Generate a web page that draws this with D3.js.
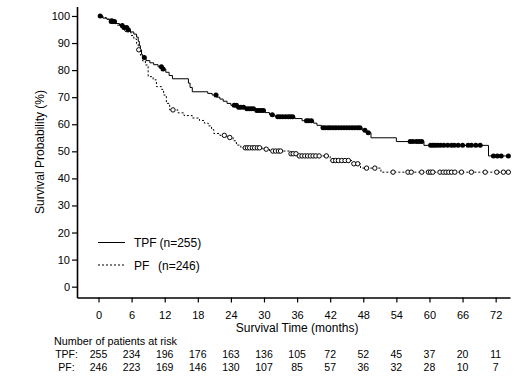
<!DOCTYPE html>
<html><head><meta charset="utf-8">
<script src="https://cdn.jsdelivr.net/npm/d3@7"></script>
<style>
body{margin:0;background:#fff;}
text{font-family:"Liberation Sans",Arial,sans-serif;fill:#000;}
</style></head>
<body><svg id="c" width="521" height="381"></svg>
<script>
// ---------- data ----------
const timeTicks = [0,6,12,18,24,30,36,42,48,54,60,66,72];
const probTicks = [0,10,20,30,40,50,60,70,80,90,100];
const endTime = 74.4;

// Kaplan-Meier steps [months, survival %]
const tpfSteps = [[0,100],[0.8,99.2],[1.5,98.8],[2.2,98.0],[3.0,97.2],[3.8,96.5],[4.6,95.7],[5.2,94.9],[5.8,94.1],[6.4,93.3],[6.9,92.2],[7.2,90.6],[7.4,89.0],[7.6,87.4],[7.8,85.8],[8.0,84.7],[8.6,83.5],[9.3,82.7],[10.0,82.0],[10.8,81.2],[11.6,80.4],[12.2,79.2],[12.8,78.0],[13.4,76.8],[16.3,75.2],[16.6,73.6],[17.0,72.0],[19.8,71.4],[20.6,70.8],[21.4,70.0],[22.0,69.3],[22.6,68.5],[23.3,67.7],[24.0,67.0],[25.2,66.3],[26.7,65.7],[28.5,65.1],[30.2,64.3],[31.0,63.5],[32.0,62.8],[35.6,62.1],[36.9,61.3],[39.0,60.4],[39.6,59.6],[40.4,58.7],[47.8,57.8],[48.5,56.9],[49.4,55.0],[54.0,53.6],[59.0,52.2],[70.7,48.3]];
const pfSteps = [[0,100],[0.7,99.4],[1.4,98.8],[2.0,98.2],[2.6,97.4],[3.3,96.6],[4.0,95.9],[4.7,95.0],[5.3,94.0],[5.9,92.8],[6.4,91.5],[6.9,89.8],[7.2,87.5],[7.6,85.5],[8.0,83.4],[8.5,81.9],[9.0,77.6],[9.9,76.4],[10.5,73.9],[11.4,72.9],[11.8,70.8],[12.3,67.7],[12.9,65.3],[14.4,64.2],[15.5,63.2],[17.0,62.3],[18.3,61.4],[19.2,60.4],[19.9,59.4],[20.5,58.0],[20.9,56.6],[22.0,55.9],[23.3,55.1],[24.4,53.9],[25.0,52.3],[25.8,51.3],[29.8,50.8],[31.0,50.1],[34.8,49.1],[36.0,48.3],[42.0,46.6],[46.0,45.4],[47.5,43.8],[51.2,42.3]];

// censored times (months)
const tpfCensor = [0.3,2.3,2.6,2.9,4.3,4.6,5.1,5.4,8.3,11.4,11.7,21.3,24.6,25.0,25.4,25.8,26.3,26.9,27.3,27.7,28.1,28.7,29.1,29.5,29.9,31.5,32.5,32.9,33.4,33.9,34.4,34.8,35.2,37.7,38.1,38.6,40.7,41.1,41.6,42.0,42.5,43.0,43.5,44.0,44.5,45.0,45.5,46.0,46.5,47.0,47.4,48.3,48.9,56.5,57.0,57.6,58.1,58.6,60.2,60.6,61.0,61.5,62.0,62.6,63.3,64.0,64.5,65.2,66.0,67.0,67.6,68.4,69.2,71.6,72.3,73.0,74.3];
const pfCensor = [2.4,5.1,7.3,13.5,22.8,23.8,26.6,27.0,27.4,27.9,28.3,28.8,29.2,30.4,31.6,32.1,32.6,33.0,34.9,35.3,35.8,36.4,36.9,37.4,37.9,38.4,38.9,39.4,40.0,41.3,42.5,43.0,43.5,44.1,44.7,45.3,46.3,47.0,48.6,50.1,53.4,56.1,56.7,58.6,59.8,60.2,60.6,61.9,62.5,63.0,63.5,64.0,64.6,65.8,67.6,70.1,72.2,73.4,74.3];

// numbers at risk
const riskTPF = [255,234,196,176,163,136,105,72,52,45,37,20,11];
const riskPF  = [246,223,169,146,130,107,85,57,36,32,28,10,7];

// ---------- chart ----------
const svg = d3.select("#c");
const x = d3.scaleLinear().domain([-3.9, 74.6]).range([77, 510]);
const y = d3.scaleLinear().domain([-4, 103.5]).range([297.5, 6.5]);

// axes
const yAxis = svg.append("g").attr("transform","translate(77,0)")
  .call(d3.axisLeft(y).tickValues(probTicks).tickSize(5).tickSizeOuter(0).tickPadding(2));
const xAxis = svg.append("g").attr("transform","translate(0,297.5)")
  .call(d3.axisBottom(x).tickValues(timeTicks).tickSize(5).tickSizeOuter(0));
[yAxis,xAxis].forEach(g=>{
  g.select(".domain").attr("stroke","#000").attr("stroke-width",1.6);
  g.selectAll(".tick line").attr("stroke","#000").attr("stroke-width",1.2);
  g.selectAll("text").attr("font-size",11).attr("font-family","Liberation Sans, Arial, sans-serif").attr("fill","#000");
});
xAxis.selectAll(".tick text").attr("y",21.5).attr("dy",0);

svg.append("text").attr("x",(x(0)+x(72))/2).attr("y",331.5).attr("text-anchor","middle")
  .attr("font-size",12).text("Survival Time (months)");
svg.append("text").attr("transform","translate(44,152) rotate(-90)").attr("text-anchor","middle")
  .attr("font-size",12).text("Survival Probability (%)");

// curves
function survAt(steps,t){let v=steps[0][1];for(const s of steps){if(s[0]<=t)v=s[1];}return v;}
const line = d3.line().x(d=>x(d[0])).y(d=>y(d[1])).curve(d3.curveStepAfter);
function ext(steps){return steps.concat([[endTime, steps[steps.length-1][1]]]);}

svg.append("path").datum(ext(pfSteps)).attr("d",line).attr("fill","none")
  .attr("stroke","#000").attr("stroke-width",1).attr("stroke-dasharray","2,2");
svg.append("path").datum(ext(tpfSteps)).attr("d",line).attr("fill","none")
  .attr("stroke","#000").attr("stroke-width",1);

svg.append("g").selectAll("circle").data(pfCensor).join("circle")
  .attr("cx",d=>x(d)).attr("cy",d=>y(survAt(pfSteps,d))).attr("r",2.2)
  .attr("fill","#fff").attr("stroke","#000").attr("stroke-width",1);
svg.append("g").selectAll("circle").data(tpfCensor).join("circle")
  .attr("cx",d=>x(d)).attr("cy",d=>y(survAt(tpfSteps,d))).attr("r",2.5)
  .attr("fill","#000");

// legend
const leg = [{label:"TPF",n:"(n=255)",dash:null,yy:242.5,nx:159.5},{label:"PF",n:"(n=246)",dash:"2,2",yy:265,nx:158}];
leg.forEach(l=>{
  svg.append("line").attr("x1",98).attr("x2",125).attr("y1",l.yy).attr("y2",l.yy)
    .attr("stroke","#000").attr("stroke-width",1).attr("stroke-dasharray",l.dash);
  const t = svg.append("text").attr("y",l.yy+4.5).attr("font-size",12);
  t.append("tspan").attr("x",134).text(l.label);
  t.append("tspan").attr("x",l.nx).text(l.n);
});

// at risk table
svg.append("text").attr("x",54).attr("y",344.5).attr("font-size",10.8).text("Number of patients at risk");
[{lab:"TPF:",vals:riskTPF,yy:357.8},{lab:"PF:",vals:riskPF,yy:370.5}].forEach(r=>{
  svg.append("text").attr("x",66.5).attr("y",r.yy).attr("text-anchor","middle").attr("font-size",10.5).text(r.lab);
  svg.append("g").selectAll("text").data(r.vals).join("text")
    .attr("x",(d,i)=>x(timeTicks[i])).attr("y",r.yy).attr("text-anchor","middle")
    .attr("font-size",10.5).text(d=>d);
});
</script></body></html>
